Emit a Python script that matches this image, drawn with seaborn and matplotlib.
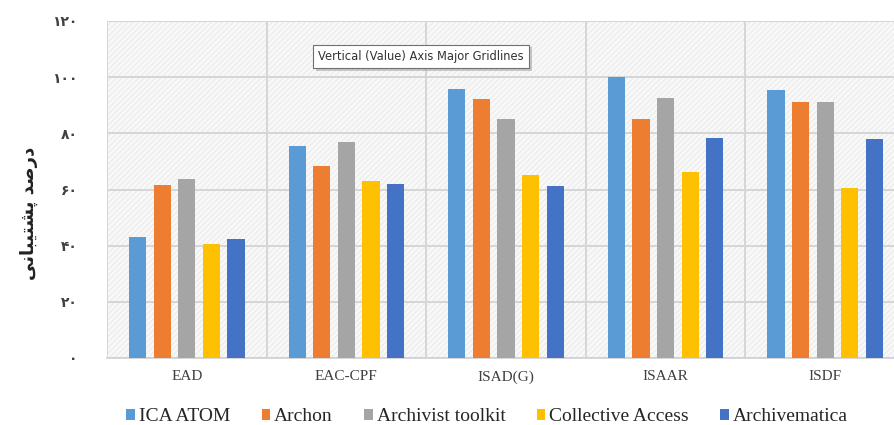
import matplotlib
matplotlib.use("Agg")
import matplotlib.pyplot as plt
import matplotlib.patheffects as pe
from matplotlib.patches import Rectangle
import seaborn as sns
import pandas as pd

standards = ["EAD", "EAC-CPF", "ISAD(G)", "ISAAR", "ISDF"]
software = ["ICA ATOM", "Archon", "Archivist toolkit", "Collective Access", "Archivematica"]
ica_atom = [43, 75.5, 95.7, 100, 95.4]
archon = [61.5, 68.3, 92.1, 85, 91]
archivist_toolkit = [63.6, 76.8, 85, 92.5, 91]
collective_access = [40.7, 63.2, 65, 66.4, 60.7]
archivematica = [42.2, 62.1, 61.4, 78.2, 77.9]
colors = ["#5B9BD5", "#ED7D31", "#A5A5A5", "#FFC000", "#4472C4"]
ytick_values = [0, 20, 40, 60, 80, 100, 120]
ytick_labels = ["۰", "۲۰", "۴۰", "۶۰", "۸۰", "۱۰۰", "۱۲۰"]
# "درصد پشتیبانی" shaped and in visual order
ylabel = "ﯽﻧﺎﺒﯿﺘﺸﭘ ﺪﺻﺭﺩ"
tooltip = "Vertical (Value) Axis Major Gridlines"

series = [ica_atom, archon, archivist_toolkit, collective_access, archivematica]
rows = []
for name, vals in zip(software, series):
    for s, v in zip(standards, vals):
        rows.append({"standard": s, "software": name, "value": v})
df = pd.DataFrame(rows)

sns.set_style("white")
plt.rcParams["hatch.linewidth"] = 0.5

fig = plt.figure(figsize=(8.95, 4.25), dpi=100)
ax = fig.add_axes([107 / 895, 1 - 358 / 425, 798 / 895, 337 / 425])
ax.set_facecolor("#f8f8f8")
ax.add_patch(Rectangle((0, 0), 1, 1, transform=ax.transAxes, facecolor="none",
                       edgecolor="#e4e4e4", hatch="//////", linewidth=0, zorder=0))

sns.barplot(data=df, x="standard", y="value", hue="software", order=standards,
            hue_order=software, palette=colors, width=0.77, gap=0.3,
            saturation=1, ax=ax, zorder=3, legend=True, linewidth=0)

ax.set_xlim(-0.5, len(standards) - 0.5)
ax.set_ylim(0, 120)
ax.set_yticks(ytick_values)
ax.set_yticklabels(ytick_labels, family="DejaVu Sans", fontweight="bold",
                   fontsize=10, color="#404040")
ax.set_xticks(range(len(standards)))
ax.set_xticklabels(standards, family="Liberation Serif", fontsize=11, color="#404040")
ax.set_xticks([i + 0.5 for i in range(-1, len(standards))], minor=True)
ax.tick_params(axis="y", length=0, pad=21)
ax.tick_params(axis="x", which="both", length=0, pad=9)
ax.grid(axis="y", which="major", color="#d6d6d6", linewidth=1.4, zorder=1)
ax.grid(axis="x", which="minor", color="#d6d6d6", linewidth=1.4, zorder=1)
ax.grid(axis="x", which="major", visible=False)
ax.set_axisbelow(True)
for sp in ["top", "right", "left"]:
    ax.spines[sp].set_visible(False)
ax.spines["bottom"].set_color("#d0d0d0")
ax.spines["bottom"].set_linewidth(1.2)
ax.set_xlabel("")
ax.set_ylabel("")

fig.text(29 / 895, 1 - 213 / 425, ylabel, rotation=90, ha="center", va="center",
         family="DejaVu Sans", fontweight="bold", fontsize=13, color="#222222")

t = ax.text(0.265, 0.895, tooltip, transform=ax.transAxes, ha="left", va="center",
            family="DejaVu Sans", fontsize=8.3, color="#333333", zorder=6,
            bbox=dict(boxstyle="square,pad=0.45", facecolor="white", edgecolor="#707070",
                      linewidth=0.8))
t.get_bbox_patch().set_path_effects([
    pe.withSimplePatchShadow(offset=(2, -2), shadow_rgbFace="#999999", alpha=0.5)])

leg = ax.get_legend()
handles = leg.legend_handles
leg.remove()
fig.legend(handles, software, loc="center", bbox_to_anchor=(487 / 895, 1 - 416.5 / 425),
           ncol=5, frameon=False, handlelength=0.45, handleheight=0.5,
           handletextpad=0.2, columnspacing=1.6, borderpad=0.1,
           prop={"family": "Liberation Serif", "size": 14})

fig.savefig("out.png", dpi=100)
